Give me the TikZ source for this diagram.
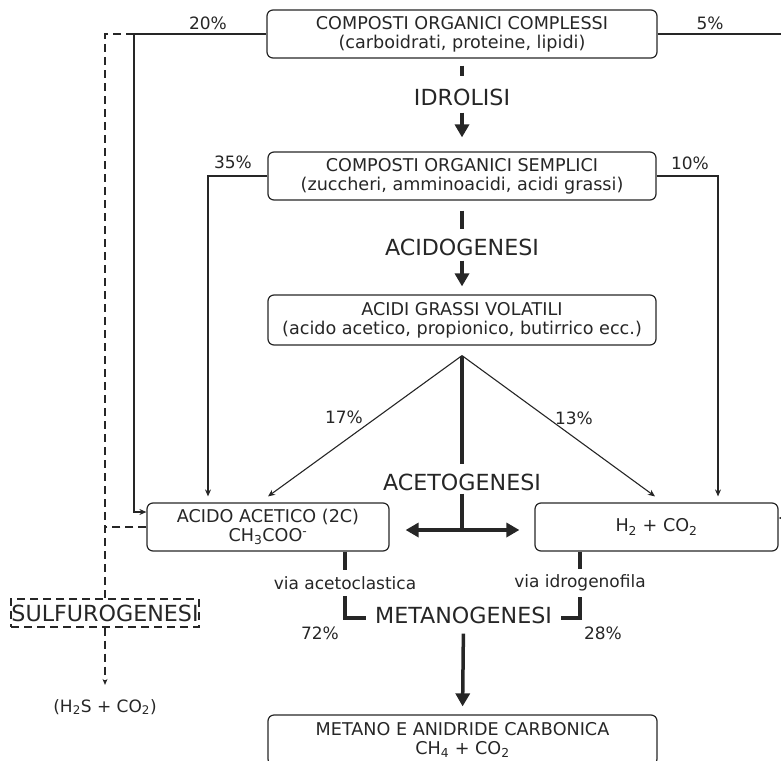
\documentclass[tikz,border=0pt]{standalone}
\usepackage{fontspec}
\setmainfont{DejaVu Sans}
\usepackage{tikz}
\usetikzlibrary{arrows.meta, positioning, calc}
\definecolor{inkgray}{RGB}{38,38,38}

\begin{document}
\begin{tikzpicture}[x=1pt, y=-1pt, >=Stealth, color=inkgray,
    phase/.style={draw, rounded corners=6pt, line width=1.2pt, align=center,
      minimum height=48pt, inner sep=0pt, font=\fontsize{17.6}{19}\selectfont},
    stage/.style={inner sep=0pt, font=\fontsize{22.2}{24}\selectfont},
    pct/.style={inner sep=0pt, font=\fontsize{17}{19}\selectfont},
    flow/.style={line width=1.1pt, -{Stealth[length=7pt, width=6pt]}},
    route/.style={line width=3.5pt},
    bigflow/.style={line width=3.5pt, -{Triangle[length=13pt, width=14pt]}},
    sulfo/.style={line width=1.1pt, dash pattern=on 8pt off 5pt}]
    \useasboundingbox (0,0) rectangle (781,760);

    % main boxes
    \node[phase, minimum width=390pt] (complessi) at (462,34)
      {COMPOSTI ORGANICI COMPLESSI\\(carboidrati, proteine, lipidi)};
    \node[phase, minimum width=388pt] (semplici) at (462,176)
      {COMPOSTI ORGANICI SEMPLICI\\(zuccheri, amminoacidi, acidi grassi)};
    \node[phase, minimum width=388pt, minimum height=50pt] (volatili) at (462,320)
      {ACIDI GRASSI VOLATILI\\(acido acetico, propionico, butirrico ecc.)};
    \node[phase, minimum width=242pt] (acetico) at (268,527)
      {ACIDO ACETICO (2C)\\CH\textsubscript{3}COO\textsuperscript{-}};
    \node[phase, minimum width=243pt] (idrogeno) at (656.5,527)
      {H\textsubscript{2} + CO\textsubscript{2}};
    \node[phase, minimum width=389pt, minimum height=50pt] (metano) at (462.5,740)
      {METANO E ANIDRIDE CARBONICA\\CH\textsubscript{4} + CO\textsubscript{2}};

    % phase labels
    \node[stage] (idrolisi) at (462,97) {IDROLISI};
    \node[stage] (acidogenesi) at (462,247) {ACIDOGENESI};
    \node[stage] (acetogenesi) at (462,482) {ACETOGENESI};
    \node[stage] (metanogenesi) at (463.5,615) {METANOGENESI};
    \node[stage, draw, sulfo, inner sep=0pt, minimum width=188pt, minimum height=28pt]
      (sulfuro) at (105,613) {SULFUROGENESI};
    \node[pct] (h2s) at (105,707) {(H\textsubscript{2}S + CO\textsubscript{2})};
    \node[pct] (viaaceto) at (345,583) {via acetoclastica};
    \node[pct] (viaidro) at (580,583) {via idrogenofila};

    % percentages
    \node[pct] (p20) at (208,23) {20\%};
    \node[pct] (p5) at (710,23) {5\%};
    \node[pct] (p35) at (233,162) {35\%};
    \node[pct] (p10) at (690,163) {10\%};
    \node[pct] (p17) at (344,417) {17\%};
    \node[pct] (p13) at (574,418) {13\%};
    \node[pct] (p72) at (320,633) {72\%};
    \node[pct] (p28) at (603,633) {28\%};

    % main chain
    \draw[route, shorten <=7pt, shorten >=12pt] (complessi.south) -- (idrolisi.north);
    \draw[bigflow, shorten <=7pt, shorten >=14pt] (idrolisi.south) -- (semplici.north);
    \draw[route, shorten <=10pt, shorten >=9pt] (semplici.south) -- (acidogenesi.north);
    \draw[bigflow, shorten <=5pt, shorten >=8pt] (acidogenesi.south) -- (volatili.north);

    % side branches
    \coordinate (left20) at (134,34);
    \draw[flow] (complessi.west) -- (left20) |- ([yshift=15pt]acetico.west);
    \draw[sulfo] (left20) -- (105,34) -- (sulfuro.north);
    \draw[sulfo] (acetico.west) -- (acetico.west -| sulfuro.north);
    \draw[sulfo, -{Stealth[length=6pt, width=5pt]}, shorten >=14pt] (sulfuro.south) -- (h2s.north);
    \draw[flow] (semplici.west) -| ([xshift=-60pt, yshift=6pt]acetico.north);
    \draw[flow] (semplici.east) -| ([xshift=61.5pt, yshift=6pt]idrogeno.north);
    \draw[flow] (complessi.east) -- (795,34) |- ([yshift=9pt]idrogeno.east);

    % acetogenesi fan
    \coordinate (apex) at ([yshift=-10pt]volatili.south);
    \coordinate (hub) at (462,530);
    \draw[flow] (apex) -- ([yshift=6pt]acetico.north);
    \draw[flow] (apex) -- ([xshift=-1.5pt, yshift=6pt]idrogeno.north);
    \draw[route, shorten >=9pt] (apex) -- (acetogenesi.north);
    \draw[route, shorten <=3pt] (acetogenesi.south) -- (hub);
    \draw[bigflow, shorten >=16pt] (hub) -- (acetico.east |- hub);
    \draw[bigflow, shorten >=15pt] (hub) -- (idrogeno.west |- hub);

    % metanogenesi
    \draw[route, shorten >=6pt] (acetico.south -| viaaceto) -- (viaaceto.north);
    \draw[route, shorten >=6pt] (idrogeno.south -| viaidro) -- (viaidro.north);
    \draw[route, shorten <=6pt, shorten >=9pt] (viaaceto.south) |- ([yshift=-3pt]metanogenesi.west);
    \draw[route, shorten <=6pt, shorten >=9pt] (viaidro.south) |- ([yshift=-3pt]metanogenesi.east);
    \draw[bigflow, shorten <=10pt, shorten >=8pt] (metanogenesi.south) -- (metano.north);
\end{tikzpicture}
\end{document}
